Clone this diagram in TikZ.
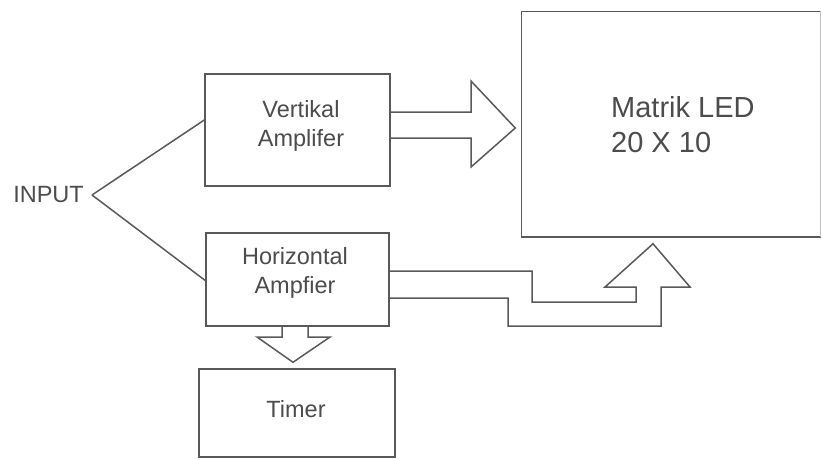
\documentclass[tikz,border=0pt]{standalone}
\usepackage{fontspec}
\setmainfont{Liberation Sans}
\usetikzlibrary{calc}
\begin{document}
\begin{tikzpicture}[x=1pt,y=-1pt,
  ln/.style={draw=black!65,line width=1.5pt,line join=miter},
  blk/.style={ln,rectangle,inner sep=0pt,align=center,text=black!70,
    font=\fontsize{23.5}{29}\selectfont},
  lbl/.style={inner sep=0pt,text=black!70,font=\fontsize{23.5}{29}\selectfont}]
\useasboundingbox (0,0) rectangle (821,459);
% blocks
\node[blk,minimum width=185,minimum height=112] (va) at (297.5,130) {};
\node[lbl,align=center] (vat) at (301,126) {Vertikal\\Amplifer};
\node[blk,minimum width=183,minimum height=93] (ha) at (297.5,279.5) {};
\node[lbl,align=center] (hat) at (295,273) {Horizontal\\Ampfier};
\node[blk,minimum width=196,minimum height=88] (tm) at (297,413) {};
\node[lbl] (tmt) at (296,409) {Timer};
\node[blk,draw=none,minimum width=298,minimum height=224] (mx) at (671,124) {};
\draw[ln] (mx.north east) -- (mx.north west) -- (mx.south west) -- (mx.south east);
\draw[ln,draw=black!25] (mx.north east) -- (mx.south east);
\node[lbl,align=left,font=\fontsize{29}{35}\selectfont,anchor=west] (mxt) at (611,125) {Matrik LED\\20 X 10};
\node[lbl,anchor=east] (inp) at (84,195) {INPUT};
% input lines
\coordinate (in) at (92,195);
\draw[ln] (in) -- ($(va.west)+(0,-10)$);
\draw[ln] (in) -- ($(ha.west)+(0,1)$);
% big arrow vertical amp -> matrix
\draw[ln] ($(va.east)+(0,-18)$) -- (471,112) -- (471,81) -- ($(mx.west)+(-6,4)$)
  -- (471,167) -- (471,138) -- ($(va.east)+(0,8)$);
% horizontal amp -> matrix
\draw[ln] ($(ha.east)+(0,-8.5)$) -- (532,271) -- (532,302) -- (636,302) -- (636,287)
  -- (605,287) -- ($(mx.south)+(-18,7)$) -- (690,287) -- (661,287) -- (661,326)
  -- (508,326) -- (508,298) -- ($(ha.east)+(0,18.5)$);
% horizontal amp -> timer
\draw[ln] ($(ha.south)+(-15.5,0)$) -- (282,337) -- (257,337) -- ($(tm.north)+(-4,-6)$)
  -- (330,337) -- (308,337) -- ($(ha.south)+(10.5,0)$);
\end{tikzpicture}
\end{document}
